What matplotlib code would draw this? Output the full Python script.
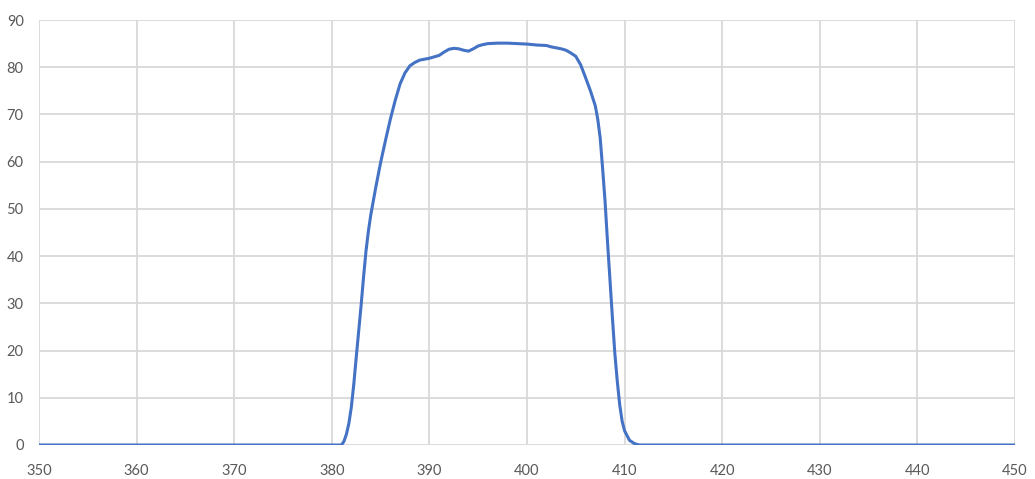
import matplotlib.pyplot as plt

# wavelength (nm) and transmission (%)
wavelength = [350, 360, 370, 380, 381.0, 381.25, 381.5, 381.75, 382.0, 382.25, 382.5,
              383.0, 383.25, 383.5, 383.75, 384.0, 384.5,
              385.0, 385.5, 386.0, 386.5, 387.0, 387.5, 388.0, 388.5, 389.0, 389.5,
              390.0, 390.5, 391.0, 391.5, 392.0, 392.5, 393.0, 393.5, 394.0, 394.5,
              395.0, 395.5, 396.0, 397.0, 398.0, 399.0, 400.0, 401.0, 402.0, 402.5,
              403.0, 403.5, 404.0, 404.5, 405.0, 405.5, 406.0, 406.5, 407.0, 407.25,
              407.5, 407.75, 408.0, 408.25, 408.5, 408.75, 409.0, 409.25, 409.5, 409.75,
              410.0, 410.5, 411.0, 411.5, 412, 420, 430, 440, 450]
transmission = [0, 0, 0, 0, 0.0, 0.8, 2.3, 4.6, 8.0, 12.8, 18.5,
                29.5, 35.5, 41.0, 45.3, 48.8, 54.5,
                59.8, 64.5, 69.0, 73.0, 76.5, 78.8, 80.3, 81.0, 81.5, 81.7,
                81.9, 82.2, 82.5, 83.2, 83.8, 84.0, 83.9, 83.6, 83.4, 83.9,
                84.5, 84.8, 85.0, 85.1, 85.1, 85.0, 84.9, 84.7, 84.6, 84.3,
                84.1, 83.9, 83.6, 83.0, 82.3, 80.5, 77.8, 75.0, 71.8, 69.0,
                65.0, 58.5, 51.5, 43.0, 35.0, 27.0, 19.4, 13.5, 8.5, 5.0,
                3.0, 1.0, 0.3, 0.0, 0, 0, 0, 0, 0]

x_ticks = list(range(350, 451, 10))
y_ticks = list(range(0, 91, 10))

plt.rcParams['font.family'] = ['Lato', 'DejaVu Sans']

fig = plt.figure(figsize=(10.35, 4.79), dpi=100)
ax = fig.add_axes([39 / 1035, 34 / 479, 976 / 1035, 425 / 479])

ax.plot(wavelength, transmission, color="#4472C4", linewidth=2.2, zorder=3,
        solid_capstyle="round", solid_joinstyle="round")

ax.set_xlim(350, 450)
ax.set_ylim(0, 90)
ax.set_xticks(x_ticks)
ax.set_yticks(y_ticks)
ax.grid(True, color="#d9d9d9", linewidth=1.3)
ax.set_axisbelow(True)
for side in ax.spines.values():
    side.set_visible(False)
ax.tick_params(length=0, labelsize=10.5, labelcolor="#595959")
ax.tick_params(axis="x", pad=14)
ax.tick_params(axis="y", pad=11)

fig.savefig("out.png", dpi=100)
